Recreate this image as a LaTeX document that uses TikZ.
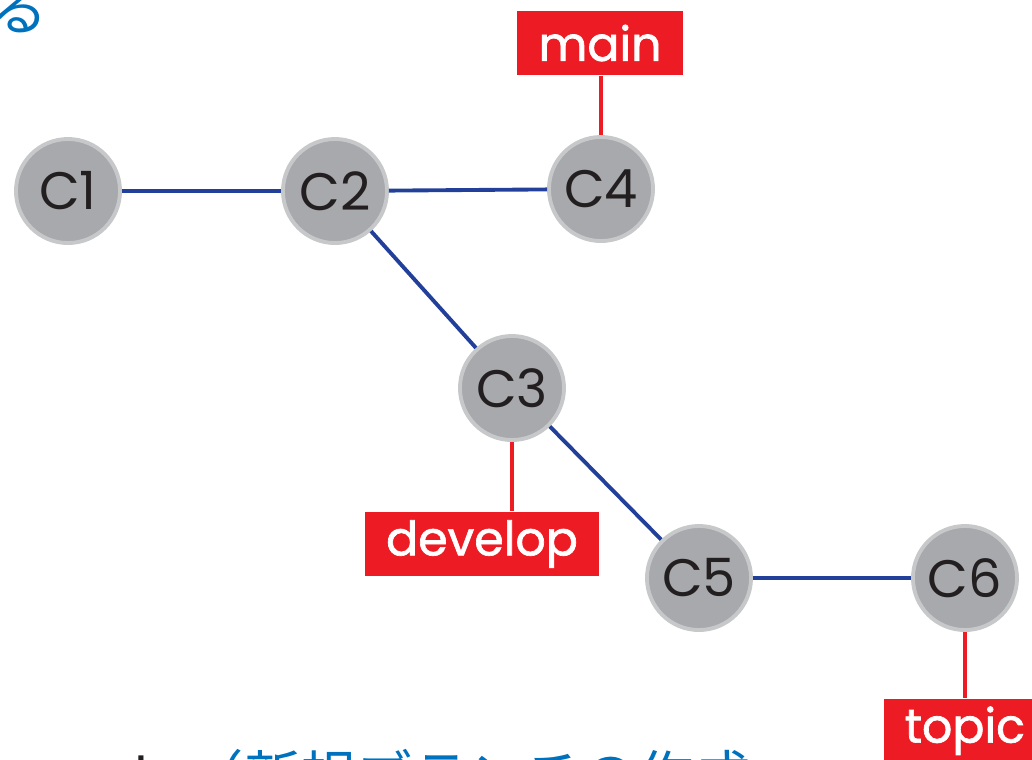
\documentclass[tikz,border=0pt]{standalone}
\usepackage{fontspec}
\setmainfont{Poppins}
\newfontfamily\labelfont{Poppins}[FakeBold=1.4]
\newfontfamily\jpfont{Noto Sans CJK JP}

\definecolor{commitfill}{HTML}{A7A9AC}
\definecolor{commitring}{HTML}{C7C8CA}
\definecolor{textdark}{HTML}{231F20}
\definecolor{histblue}{HTML}{22409A}
\definecolor{branchred}{HTML}{ED1C24}
\definecolor{noteblue}{HTML}{0071BC}

\tikzset{
    commit/.style={circle, fill=commitfill, draw=commitring, line width=1.1pt,
        minimum size=1.04cm, inner sep=0pt, text=textdark,
        font=\fontsize{15}{15}\selectfont},
    branch/.style={fill=branchred, text=white, minimum height=0.64cm,
        inner xsep=0.21cm, inner ysep=0pt, font=\labelfont\fontsize{13.5}{13.5}\selectfont},
    history/.style={draw=histblue, line width=1.1pt},
    pointer/.style={draw=branchred, line width=1.1pt},
}

\begin{document}
\begin{tikzpicture}[x=0.01cm, y=-0.01cm]
            \useasboundingbox (0,0) rectangle (1032,759);
            \clip (0,0) rectangle (1032,759);

            % commits
            \node[commit] (c1) at (68,191) {C1};
            \node[commit] (c2) at (335,191) {C2};
            \node[commit] (c4) at (601,189) {C4};
            \node[commit] (c3) at (512,388) {C3};
            \node[commit] (c5) at (699,578) {C5};
            \node[commit] (c6) at (965,578) {C6};

            \draw[history] (c1) -- (c2);
            \draw[history] (c2) -- (c4);
            \draw[history] (c2) -- (c3);
            \draw[history] (c3) -- (c5);
            \draw[history] (c5) -- (c6);

            % branch labels
            \node[branch] (main) at (600,43) {main};
            \node[branch] (develop) at (482,544) {develop};
            \node[branch, anchor=north west] (topic) at (883,698) {topic};

            \draw[pointer] (main.south -| c4) -- (c4);
            \draw[pointer] (c3) -- (c3 |- develop.north);
            \draw[pointer] (c6) -- (c6 |- topic.north);

            % text running off the edges
            \node[anchor=base west, inner sep=0pt, text=noteblue,
                font=\jpfont\fontsize{16}{16}\selectfont] (topnote) at (-9,30) {る};
            \node[anchor=base west, inner sep=0pt, text=textdark,
                font=\fontsize{16}{16}\selectfont] (bottomnote) at (103,797)
                {-b {\jpfont\color{noteblue}（新規ブランチの作成}};
\end{tikzpicture}
\end{document}
